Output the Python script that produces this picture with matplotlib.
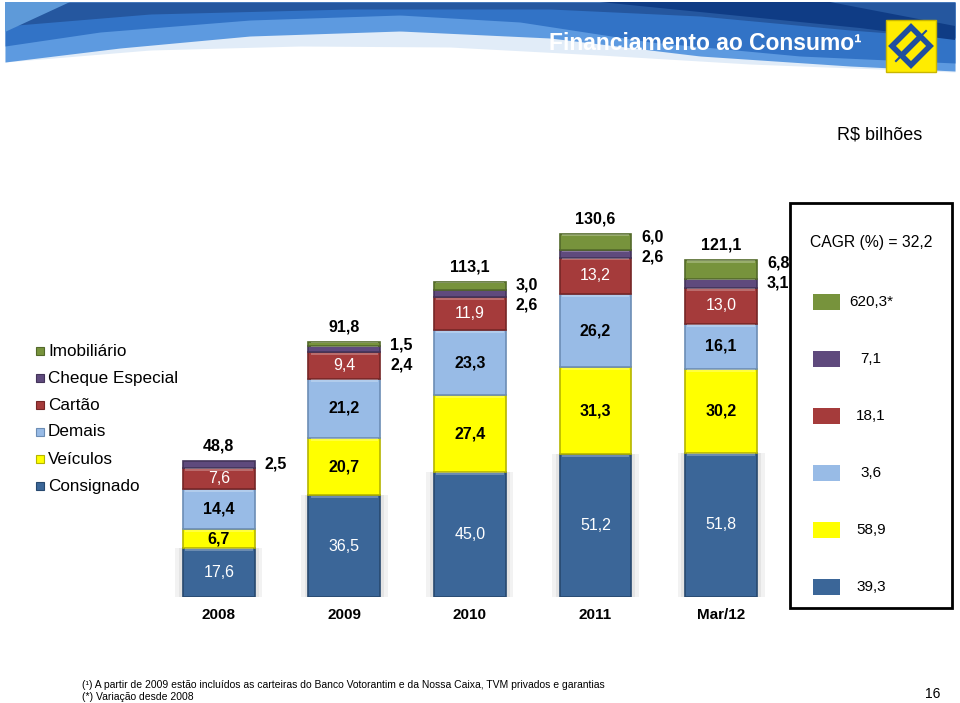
import numpy as np
import matplotlib.pyplot as plt
from matplotlib.patches import Rectangle, Polygon

plt.rcParams['font.family'] = ['Liberation Sans', 'DejaVu Sans']

# dados (R$ bilhões)
periods = ['2008', '2009', '2010', '2011', 'Mar/12']
totals = ['48,8', '91,8', '113,1', '130,6', '121,1']
consignado = [17.6, 36.5, 45.0, 51.2, 51.8]
veiculos = [6.7, 20.7, 27.4, 31.3, 30.2]
demais = [14.4, 21.2, 23.3, 26.2, 16.1]
cartao = [7.6, 9.4, 11.9, 13.2, 13.0]
cheque = [2.5, 2.4, 2.6, 2.6, 3.1]
imobiliario = [0.0, 1.5, 3.0, 6.0, 6.8]

names = ['Consignado', 'Veículos', 'Demais', 'Cartão', 'Cheque Especial', 'Imobiliário']
cagr = ['39,3', '58,9', '3,6', '18,1', '7,1', '620,3*']
colors = ['#3b6698', '#ffff00', '#98bbe6', '#a53b3b', '#5f4a7d', '#77933c']
edges = ['#27496f', '#b5b500', '#6c8db5', '#762626', '#433459', '#53692a']
# estilo do rótulo interno: (cor, peso) ou None
inner_style = [('white', 'normal'), ('black', 'bold'), ('black', 'bold'),
               ('white', 'normal'), None, None]


def fmt(v):
    return f"{v:.1f}".replace('.', ',')


fig = plt.figure(figsize=(9.6, 7.03), dpi=100)

# camada de fundo em pixels
bg = fig.add_axes([0, 0, 1, 1], zorder=0)
bg.set_xlim(0, 960)
bg.set_ylim(703, 0)
bg.axis('off')

# faixa azul do topo
xs = np.linspace(5, 955, 300)


def curve(pts):
    px, py = zip(*pts)
    return np.interp(xs, px, py)


c_pale = curve([(5, 62), (150, 50), (300, 46), (450, 47), (600, 55), (750, 64), (955, 72)])
c_light = curve([(5, 62), (120, 48), (250, 36), (400, 31), (550, 38), (700, 56), (850, 66), (955, 71)])
c_mid = curve([(5, 46), (100, 32), (250, 20), (400, 15), (520, 22), (650, 42), (800, 56), (955, 63)])
c_dark = curve([(5, 26), (150, 14), (350, 9), (550, 9), (700, 16), (850, 30), (955, 38)])
bg.fill_between(xs, 2, np.maximum(c_pale, c_light), color='#e1ecf8', lw=0)
bg.fill_between(xs, 2, c_light, color='#5d9ae0', lw=0)
bg.fill_between(xs, 2, c_mid, color='#3273c6', lw=0)
bg.fill_between(xs, 2, c_dark, color='#25579f', lw=0)
bg.add_patch(Polygon([(600, 2), (830, 2), (955, 26), (955, 40), (860, 28), (740, 16)],
                     closed=True, color='#0f3c85', lw=0))
bg.add_patch(Polygon([(5, 2), (70, 2), (5, 32)], closed=True, color='#5e9ad9', lw=0))
bg.text(862, 43, 'Financiamento ao Consumo¹', ha='right', va='center',
        color='white', fontsize=16.5, fontweight='bold')

# logotipo
bg.add_patch(Rectangle((886, 20), 50, 52, facecolor='#ffec00', edgecolor='#c9b600', lw=1))
bg.add_patch(Polygon([(911, 27), (930, 46), (911, 65), (892, 46)], closed=True,
                     fill=False, edgecolor='#1f4e9e', lw=4))
bg.plot([901, 921], [56, 36], color='#1f4e9e', lw=4, solid_capstyle='butt')
bg.plot([896, 904], [61, 53], color='#1f4e9e', lw=1.5)
bg.plot([918, 926], [39, 31], color='#1f4e9e', lw=1.5)

bg.text(880, 135, 'R$ bilhões', ha='center', va='center', fontsize=13)

# legenda da esquerda
for k, name in enumerate(names[::-1]):
    y = 351 + 27 * k
    bg.add_patch(Rectangle((36, y - 4), 8, 8, facecolor=colors[::-1][k],
                           edgecolor=edges[::-1][k], lw=0.8))
    bg.text(48, y, name, va='center', ha='left', fontsize=12.3)

# quadro CAGR
bg.add_patch(Rectangle((790, 203), 162, 405, fill=False, edgecolor='black', lw=2))
bg.text(871, 243, 'CAGR (%) = 32,2', ha='center', va='center', fontsize=11.3)
for k in range(len(names)):
    y = 302 + 57 * k
    bg.add_patch(Rectangle((813, y - 8), 27, 16, color=colors[::-1][k], lw=0))
    bg.text(871, y, cagr[::-1][k], ha='center', va='center', fontsize=11)

# notas
bg.text(82, 685, '(¹) A partir de 2009 estão incluídos as carteiras do Banco Votorantim e da Nossa Caixa, TVM privados e garantias',
        ha='left', va='center', fontsize=7.5)
bg.text(82, 697, '(*) Variação desde 2008', ha='left', va='center', fontsize=7.5)
bg.text(940, 694, '16', ha='right', va='center', fontsize=10)

# gráfico de barras empilhadas
ax = fig.add_axes([0.1625, 0.1508, 0.654, 0.5744], zorder=1)
ax.patch.set_alpha(0)
x = np.arange(len(periods))
w = 0.573
series = [consignado, veiculos, demais, cartao, cheque, imobiliario]

# sombra atrás do consignado
ax.bar(x, consignado, width=w + 0.12, color='#808080', alpha=0.10, lw=0, zorder=1)
ax.bar(x, consignado, width=w + 0.06, color='#808080', alpha=0.12, lw=0, zorder=1)

bottom = np.zeros(len(periods))
for vals, c, e, st in zip(series, colors, edges, inner_style):
    vals = np.array(vals)
    bars = ax.bar(x, vals, width=w, bottom=bottom, color=c, edgecolor=e,
                  lw=1.2, zorder=2)
    for b, v in zip(bars, vals):
        if v <= 0:
            b.set_visible(False)
    # realce superior (efeito bisel)
    hi = np.minimum(vals * 0.12, 0.9)
    ax.bar(x, hi, width=w * 0.94, bottom=bottom + vals - hi - 0.15 * (vals > 0),
           color='white', alpha=0.25, lw=0, zorder=3)
    if st is not None:
        for xi, bi, v in zip(x, bottom, vals):
            ax.text(xi, bi + v / 2, fmt(v), ha='center', va='center',
                    color=st[0], fontweight=st[1], fontsize=11.5, zorder=4)
    bottom = bottom + vals

tops = bottom
for xi, t, lab in zip(x, tops, totals):
    ax.annotate(lab, (xi, t), xytext=(0, 10.8), textcoords='offset points',
                ha='center', va='center', fontsize=11.5, fontweight='bold')

# rótulos externos (cheque especial e imobiliário)
for i in range(len(periods)):
    small = [v for v in (imobiliario[i], cheque[i]) if v > 0]
    for k, v in enumerate(small):
        ax.annotate(fmt(v), (x[i] + 0.455, tops[i]),
                    xytext=(0, -(3 + 20 * k) * 0.72), textcoords='offset points',
                    ha='center', va='center', fontsize=11.5, fontweight='bold')

ax.set_xlim(-0.5, 4.5)
ax.set_ylim(0, 145)
ax.set_xticks(x)
ax.set_xticklabels(periods, fontsize=11, fontweight='bold')
ax.tick_params(axis='x', length=0, pad=8)
ax.set_yticks([])
for s in ax.spines.values():
    s.set_visible(False)

fig.savefig('out.png', dpi=100)
